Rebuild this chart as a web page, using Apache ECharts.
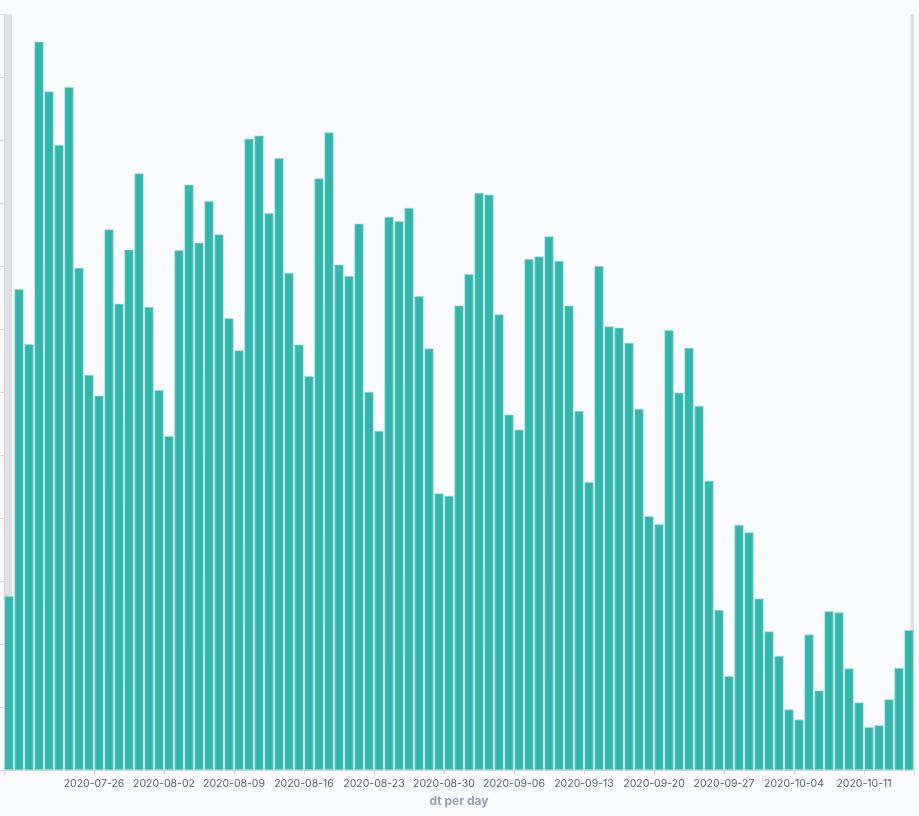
<!DOCTYPE html>
<html>
<head>
<meta charset="utf-8">
<script src="https://cdn.jsdelivr.net/npm/echarts@6/dist/echarts.min.js"></script>
<style>
  html, body { margin: 0; padding: 0; background: #fafbfd; }
  #chart { width: 919px; height: 816px; }
</style>
</head>
<body>
<div id="chart"></div>
<script>
const dates = [
  '2020-07-17','2020-07-18','2020-07-19','2020-07-20','2020-07-21','2020-07-22','2020-07-23','2020-07-24','2020-07-25',
  '2020-07-26','2020-07-27','2020-07-28','2020-07-29','2020-07-30','2020-07-31','2020-08-01',
  '2020-08-02','2020-08-03','2020-08-04','2020-08-05','2020-08-06','2020-08-07','2020-08-08',
  '2020-08-09','2020-08-10','2020-08-11','2020-08-12','2020-08-13','2020-08-14','2020-08-15',
  '2020-08-16','2020-08-17','2020-08-18','2020-08-19','2020-08-20','2020-08-21','2020-08-22',
  '2020-08-23','2020-08-24','2020-08-25','2020-08-26','2020-08-27','2020-08-28','2020-08-29',
  '2020-08-30','2020-08-31','2020-09-01','2020-09-02','2020-09-03','2020-09-04','2020-09-05',
  '2020-09-06','2020-09-07','2020-09-08','2020-09-09','2020-09-10','2020-09-11','2020-09-12',
  '2020-09-13','2020-09-14','2020-09-15','2020-09-16','2020-09-17','2020-09-18','2020-09-19',
  '2020-09-20','2020-09-21','2020-09-22','2020-09-23','2020-09-24','2020-09-25','2020-09-26',
  '2020-09-27','2020-09-28','2020-09-29','2020-09-30','2020-10-01','2020-10-02','2020-10-03',
  '2020-10-04','2020-10-05','2020-10-06','2020-10-07','2020-10-08','2020-10-09','2020-10-10',
  '2020-10-11','2020-10-12','2020-10-13','2020-10-14','2020-10-15'
];
const counts = [
  27.6, 76.3, 67.6, 115.6, 107.7, 99.2, 108.4, 79.7, 62.7,
  59.4, 85.8, 74.0, 82.6, 94.7, 73.5, 60.3,
  53.0, 82.5, 92.9, 83.7, 90.3, 85.0, 71.7,
  66.6, 100.2, 100.7, 88.4, 97.1, 78.9, 67.5,
  62.5, 93.9, 101.2, 80.2, 78.4, 86.7, 60.0,
  53.8, 87.8, 87.1, 89.2, 75.2, 66.9, 43.9,
  43.5, 73.7, 78.7, 91.6, 91.3, 72.3, 56.4,
  54.0, 81.1, 81.5, 84.7, 80.8, 73.7, 57.0,
  45.7, 80.0, 70.4, 70.2, 67.8, 57.3, 40.3,
  39.0, 69.8, 59.9, 67.0, 57.8, 45.9, 25.4,
  14.9, 38.9, 37.7, 27.2, 22.0, 18.1, 9.6,
  8.0, 21.5, 12.6, 25.2, 25.0, 16.1, 10.7,
  6.8, 7.1, 11.2, 16.2, 22.2
];
const tickLabels = [
  '2020-07-26','2020-08-02','2020-08-09','2020-08-16','2020-08-23','2020-08-30',
  '2020-09-06','2020-09-13','2020-09-20','2020-09-27','2020-10-04','2020-10-11'
];
const axisName = 'dt per day';

const labelIdx = tickLabels.map(d => dates.indexOf(d));
const tickIdx = [0].concat(labelIdx, [dates.length]);

const chart = echarts.init(document.getElementById('chart'));
chart.setOption({
  backgroundColor: '#fafbfd',
  animation: false,
  textStyle: { fontFamily: 'Inter, "Open Sans", sans-serif' },
  grid: { left: 4, right: 5, top: 14, bottom: 46, containLabel: false },
  graphic: [
    { type: 'rect', z: -10, shape: { x: 4, y: 14, width: 8, height: 756 }, style: { fill: '#e1e1e4' } },
    { type: 'rect', z: -10, shape: { x: 910.5, y: 14, width: 3.5, height: 756 }, style: { fill: '#e1e1e4' } }
  ],
  xAxis: [
    {
      type: 'category',
      data: dates,
      boundaryGap: true,
      axisLine: { show: true, lineStyle: { color: '#d6d9de', width: 1 } },
      axisTick: { show: false },
      axisLabel: { show: false },
      splitLine: { show: false }
    },
    {
      type: 'value',
      min: 0,
      max: dates.length,
      position: 'bottom',
      axisLine: { show: false },
      splitLine: { show: false },
      axisTick: { show: true, length: 5, customValues: tickIdx, lineStyle: { color: '#d6d9de' } },
      axisLabel: {
        show: true,
        customValues: labelIdx,
        margin: 8,
        color: '#5a606b',
        fontSize: 10.5,
        fontFamily: 'Inter, "Open Sans", sans-serif',
        formatter: v => dates[Math.round(v)]
      },
      name: axisName,
      nameLocation: 'middle',
      nameGap: 25,
      nameTextStyle: { color: '#98a0ac', fontSize: 12, fontWeight: 'bold', fontFamily: 'Inter, "Open Sans", sans-serif' }
    }
  ],
  yAxis: {
    type: 'value',
    min: 0,
    max: 120,
    interval: 10,
    axisLine: { show: true, lineStyle: { color: '#d6d9de', width: 1 } },
    axisTick: { show: true, inside: false, length: 4, lineStyle: { color: '#d6d9de' } },
    axisLabel: { show: false },
    splitLine: { show: false }
  },
  series: [{
    type: 'bar',
    xAxisIndex: 0,
    data: counts,
    barWidth: 9,
    itemStyle: { color: '#32b7ad', borderColor: '#9fdcd6', borderWidth: 0.6 }
  }]
});
</script>
</body>
</html>
